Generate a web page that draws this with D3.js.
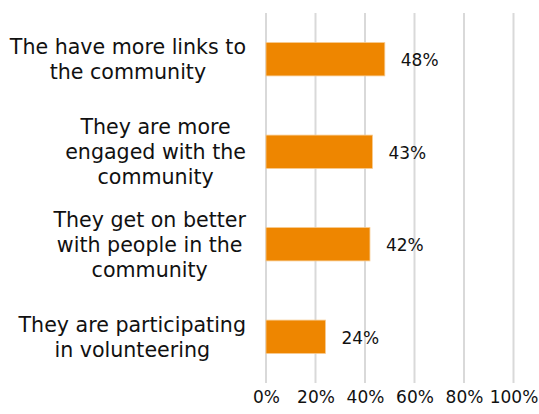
<!DOCTYPE html>
<html>
<head>
<meta charset="utf-8">
<script src="https://cdn.jsdelivr.net/npm/d3@7"></script>
<style>
  html, body { margin: 0; padding: 0; background: #ffffff; }
  svg { display: block; }
  text { font-family: "DejaVu Sans", Verdana, sans-serif; fill: #111111; }
</style>
</head>
<body>
<svg id="chart" width="539" height="414"></svg>
<script>
// Survey answers, each label already split into its wrapped lines
const categories = [
  ["The have more links to", "the community"],
  ["They are more", "engaged with the", "community"],
  ["They get on better", "with people in the", "community"],
  ["They are participating", "in volunteering"]
];
const values = [0.48, 0.43, 0.42, 0.24];
const valueLabels = ["48%", "43%", "42%", "24%"];
const tickValues = [0, 0.2, 0.4, 0.6, 0.8, 1.0];
const tickLabels = ["0%", "20%", "40%", "60%", "80%", "100%"];

const svg = d3.select("#chart");
const plot = { left: 266, right: 513.5, top: 13, bottom: 383 };

const x = d3.scaleLinear().domain([0, 1]).range([plot.left, plot.right]);
const y = d3.scaleBand()
  .domain(d3.range(categories.length))
  .range([plot.top, plot.bottom])
  .padding(0);

const barH = y.bandwidth() * 0.36;
const lineH = 25;

// vertical gridlines
svg.append("g")
  .selectAll("line")
  .data(tickValues)
  .join("line")
  .attr("x1", d => x(d)).attr("x2", d => x(d))
  .attr("y1", plot.top).attr("y2", plot.bottom)
  .attr("stroke", "#d9d9d9")
  .attr("stroke-width", 2);

// bottom axis labels
const axis = d3.axisBottom(x)
  .tickValues(tickValues)
  .tickFormat((d, i) => tickLabels[i])
  .tickSize(0)
  .tickPadding(0);
const axisG = svg.append("g")
  .attr("transform", `translate(0,${plot.bottom})`)
  .call(axis);
axisG.select(".domain").remove();
axisG.selectAll("text")
  .attr("y", 20)
  .attr("dy", 0)
  .style("font-size", "17px")
  .style("font-family", "'DejaVu Sans', Verdana, sans-serif")
  .attr("fill", "#111111");

// bars
svg.append("g")
  .selectAll("rect")
  .data(values)
  .join("rect")
  .attr("x", x(0))
  .attr("y", (d, i) => y(i) + (y.bandwidth() - barH) / 2)
  .attr("width", d => x(d) - x(0))
  .attr("height", barH)
  .attr("fill", "#ee8600")
  .attr("stroke", "#f7c98c")
  .attr("stroke-width", 0.8);

// value labels
svg.append("g")
  .selectAll("text")
  .data(values)
  .join("text")
  .attr("x", d => x(d) + 16)
  .attr("y", (d, i) => y(i) + y.bandwidth() / 2)
  .attr("dy", "0.4em")
  .style("font-size", "17px")
  .text((d, i) => valueLabels[i]);

// category labels: block right-aligned, lines centred within the block
const labelRight = 246;
const catG = svg.append("g")
  .selectAll("text")
  .data(categories)
  .join("text")
  .style("font-size", "20.6px")
  .attr("text-anchor", "middle");

catG.each(function (lines, i) {
  const t = d3.select(this);
  const cy = y(i) + y.bandwidth() / 2;
  const tspans = t.selectAll("tspan")
    .data(lines)
    .join("tspan")
    .attr("y", (d, j) => cy + (j - (lines.length - 1) / 2) * lineH)
    .attr("dy", "0.36em")
    .text(d => d);
  // measure widest line, then centre all lines on that block
  let maxW = 0;
  tspans.each(function () { maxW = Math.max(maxW, this.getComputedTextLength()); });
  tspans.attr("x", labelRight - maxW / 2);
});
</script>
</body>
</html>
